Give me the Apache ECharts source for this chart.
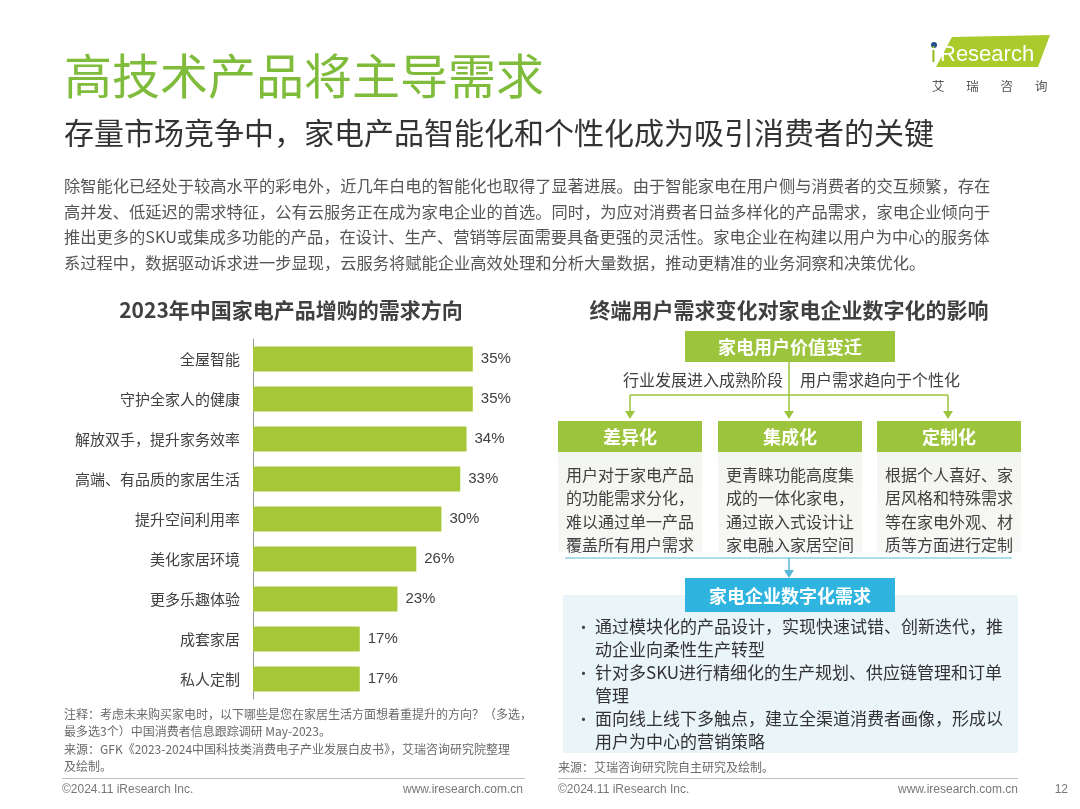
<!DOCTYPE html>
<html><head><meta charset="utf-8">
<script src="https://cdn.jsdelivr.net/npm/echarts@6/dist/echarts.min.js"></script>
<style>html,body{margin:0;padding:0;background:#fff}#c{width:1080px;height:809px}</style>
</head><body><div id="c"></div>
<script>
// ---- data ----
const categories = ['全屋智能','守护全家人的健康','解放双手，提升家务效率','高端、有品质的家居生活','提升空间利用率','美化家居环境','更多乐趣体验','成套家居','私人定制'];
const values = [35, 35, 34, 33, 30, 26, 23, 17, 17];

const title = '高技术产品将主导需求';
const subtitle = '存量市场竞争中，家电产品智能化和个性化成为吸引消费者的关键';
const bodyLines = [
  '除智能化已经处于较高水平的彩电外，近几年白电的智能化也取得了显著进展。由于智能家电在用户侧与消费者的交互频繁，存在',
  '高并发、低延迟的需求特征，公有云服务正在成为家电企业的首选。同时，为应对消费者日益多样化的产品需求，家电企业倾向于',
  '推出更多的SKU或集成多功能的产品，在设计、生产、营销等层面需要具备更强的灵活性。家电企业在构建以用户为中心的服务体',
  '系过程中，数据驱动诉求进一步显现，云服务将赋能企业高效处理和分析大量数据，推动更精准的业务洞察和决策优化。'
];
const leftTitle = '2023年中国家电产品增购的需求方向';
const rightTitle = '终端用户需求变化对家电企业数字化的影响';
const noteLines = [
  '注释：考虑未来购买家电时，以下哪些是您在家居生活方面想着重提升的方向？（多选，',
  '最多选3个）中国消费者信息跟踪调研 May-2023。',
  '来源：GFK《2023-2024中国科技类消费电子产业发展白皮书》，艾瑞咨询研究院整理',
  '及绘制。'
];
const topBoxText = '家电用户价值变迁';
const branchLeft = '行业发展进入成熟阶段';
const branchRight = '用户需求趋向于个性化';
const colHeaders = ['差异化','集成化','定制化'];
const colBodies = [
  ['用户对于家电产品','的功能需求分化，','难以通过单一产品','覆盖所有用户需求'],
  ['更青睐功能高度集','成的一体化家电，','通过嵌入式设计让','家电融入家居空间'],
  ['根据个人喜好、家','居风格和特殊需求','等在家电外观、材','质等方面进行定制']
];
const blueBoxText = '家电企业数字化需求';
const bullets = [
  ['通过模块化的产品设计，实现快速试错、创新迭代，推','动企业向柔性生产转型'],
  ['针对多SKU进行精细化的生产规划、供应链管理和订单','管理'],
  ['面向线上线下多触点，建立全渠道消费者画像，形成以','用户为中心的营销策略']
];
const rightSource = '来源：艾瑞咨询研究院自主研究及绘制。';
const footerLeft = '©2024.11 iResearch Inc.';
const footerRight = 'www.iresearch.com.cn';
const pageNo = '12';

// ---- styles ----
const CJK = '"Noto Sans CJK SC", sans-serif';
const LAT = '"Liberation Sans", Arial, sans-serif';
const GREEN = '#a6c838';
const HGREEN = '#9cc43c';
const TGREEN = '#80bc3c';
const BLUE = '#2fb4e0';

const g = [];
function T(text, x, y, size, color, o) {
  o = o || {};
  g.push({type:'text', z: 10, style:{text:text, x:x, y:y, fill:color,
    font:(o.bold?'bold ':'') + size + 'px ' + (o.family||CJK),
    align:o.align||'left', verticalAlign:'middle'}});
}
function R(x,y,w,h,fill,z){ g.push({type:'rect', z:z||1, shape:{x:x,y:y,width:w,height:h}, style:{fill:fill}}); }
function L(x1,y1,x2,y2,color,w){ g.push({type:'line', z:2, shape:{x1:x1,y1:y1,x2:x2,y2:y2}, style:{stroke:color,lineWidth:w||1}}); }
function Arrow(x,y,color){ g.push({type:'polygon', z:3, shape:{points:[[x-5,y-8],[x+5,y-8],[x,y]]}, style:{fill:color}}); }

// header
T(title, 64, 76, 48, TGREEN);
T(subtitle, 64, 133, 30, '#333333');
bodyLines.forEach((s,i)=>T(s, 64, 186 + i*25.5, 16.25, '#555555'));

// logo
g.push({type:'polygon', z:1, shape:{points:[[952,37],[1050,35],[1038,67],[936,67]]}, style:{fill:'#a9cb2c'}});
g.push({type:'circle', z:3, shape:{cx:934, cy:45, r:3}, style:{fill:'#1f4e8c'}});
T('i', 931, 56, 22, '#8dbb24', {family:LAT});
T('Research', 940, 55, 22, '#ffffff', {family:LAT});
['艾','瑞','咨','询'].forEach((c,i)=>T(c, 932 + i*34.3, 86, 12.5, '#555555'));

// chart titles
T(leftTitle, 291, 310, 21, '#404040', {bold:true, align:'center'});
T(rightTitle, 789, 310, 21, '#404040', {bold:true, align:'center'});

// notes
noteLines.forEach((s,i)=>T(s, 64, 714 + i*17.6, 12, '#6a6a6a'));

// footers
L(62, 778.5, 525, 778.5, '#bdbdbd', 1);
L(558, 778.5, 1018, 778.5, '#bdbdbd', 1);
T(footerLeft, 62, 790, 12, '#777777', {family:LAT});
T(footerRight, 523, 790, 12, '#777777', {family:LAT, align:'right'});
T(footerLeft, 558, 790, 12, '#777777', {family:LAT});
T(footerRight, 1018, 790, 12, '#777777', {family:LAT, align:'right'});
T(pageNo, 1068, 790, 12, '#777777', {family:LAT, align:'right'});

// right diagram
R(685, 331, 210, 31, HGREEN, 2);
T(topBoxText, 790, 347, 18, '#ffffff', {bold:true, align:'center'});
L(789, 362, 789, 413, HGREEN, 1.5);
L(630, 395, 948, 395, HGREEN, 1.5);
L(630, 395, 630, 413, HGREEN, 1.5);
L(948, 395, 948, 413, HGREEN, 1.5);
Arrow(630, 419, HGREEN); Arrow(789, 419, HGREEN); Arrow(948, 419, HGREEN);
T(branchLeft, 783, 380, 16, '#404040', {align:'right'});
T(branchRight, 800, 380, 16, '#404040');
const colX = [558, 718, 877];
colX.forEach((x,i)=>{
  R(x, 421, 144, 31, HGREEN, 2);
  g.push({type:'rect', z:1, shape:{x:x, y:452, width:144, height:100},
    style:{fill:new echarts.graphic.LinearGradient(0,0,0,1,[{offset:0,color:'#f3f5f0'},{offset:1,color:'#f7f8f5'}])}});
  T(colHeaders[i], x+72, 437, 18, '#ffffff', {bold:true, align:'center'});
  colBodies[i].forEach((s,j)=>T(s, x+8, 475 + j*23.3, 16, '#404040'));
});
L(565, 558, 1012, 558, '#8fd0e6', 1.5);
L(789, 558, 789, 572, '#58b6d8', 1.5);
Arrow(789, 578, '#58b6d8');
R(563, 595, 455, 158, '#eaf5fa', 1);
R(685, 578, 210, 34, BLUE, 2);
T(blueBoxText, 790, 596, 18, '#ffffff', {bold:true, align:'center'});
let ly = 627;
bullets.forEach(b=>{
  T('•', 576, ly, 15, '#444444');
  b.forEach(s=>{ T(s, 595, ly, 17, '#333333'); ly += 23; });
});
T(rightSource, 558, 767, 12, '#6a6a6a');

const chart = echarts.init(document.getElementById('c'));
chart.setOption({
  backgroundColor:'#ffffff',
  animation:false,
  grid:{left:253, top:339, width:314, height:360},
  xAxis:{type:'value', min:0, max:50, show:false},
  yAxis:{type:'category', data:categories, inverse:true,
    axisLine:{show:true, lineStyle:{color:'#999999', width:1}},
    axisTick:{show:false},
    axisLabel:{fontSize:15, color:'#404040', margin:13, fontFamily:CJK}},
  series:[{type:'bar', data:values, barWidth:25, itemStyle:{color:GREEN},
    label:{show:true, position:'right', distance:8, formatter:'{c}%', fontSize:15, color:'#404040', fontFamily:LAT}}],
  graphic:{elements:g}
});
</script></body></html>
